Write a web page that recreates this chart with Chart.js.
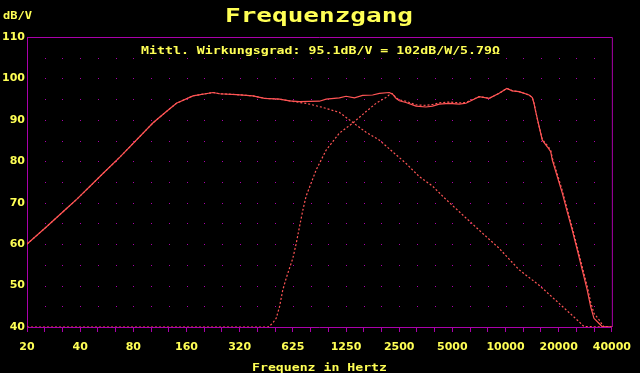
<!DOCTYPE html>
<html>
<head>
<meta charset="utf-8">
<script src="https://cdn.jsdelivr.net/npm/chart.js@4/dist/chart.umd.min.js"></script>
<style>
  html, body { margin: 0; padding: 0; background: #000; }
  #wrap { width: 640px; height: 373px; }
</style>
</head>
<body>
<div id="wrap"><canvas id="chart"></canvas></div>
<script>
// x axis: one label per octave, tick marks every third of an octave
const xTickLabels = ['20', '40', '80', '160', '320', '625', '1250', '2500', '5000', '10000', '20000', '40000'];

// total response (solid)
const mainFreq = [20, 25.8, 33.5, 38.2, 54, 67.1, 103.5, 123.1, 140.3, 174.1, 225.9, 246.4, 306.4, 380.1, 442.5,
  537.9, 612.6, 698, 905, 987.7, 1174, 1281, 1428, 1590, 1811, 1978, 2251, 2350, 2457, 2564, 2797, 3187, 3628,
  3954, 4316, 4915, 5597, 6108, 6655, 7262, 8272, 9421, 10413, 11197, 12218, 13917, 14519, 14845, 15178, 15703,
  16542, 17656, 18457, 18845, 20113, 21467, 22900, 24440, 26085, 27840, 29715, 31062, 32426, 34580, 36100, 40960];
const mainDb = [60, 64.2, 68.6, 70.8, 77.1, 81, 89.3, 92, 94, 95.8, 96.6, 96.3, 96.1, 95.8, 95.2,
  95.0, 94.6, 94.4, 94.5, 95.0, 95.3, 95.7, 95.3, 95.9, 96.0, 96.4, 96.6, 96.2, 95.2, 94.6, 94.2, 93.3, 93.1,
  93.3, 93.8, 94.0, 93.8, 94.0, 94.8, 95.6, 95.2, 96.4, 97.6, 97.0, 96.8, 96.0, 95.4, 94.0, 92.0, 89.2,
  85.1, 83.5, 82.3, 80.3, 76.3, 72.3, 67.8, 63.4, 58.6, 53.8, 48.9, 44.9, 42.1, 40.9, 40.1, 40];

// woofer branch (dotted)
const wooferFreq = [20, 25.8, 33.5, 38.2, 54, 67.1, 103.5, 123.1, 140.3, 174.1, 225.9, 246.4, 306.4, 380.1, 442.5,
  537.9, 612.6, 698, 761, 945, 1174, 1396, 1662, 1978, 2350, 2797, 3327, 3954, 4708, 7424, 9421, 12218,
  15850, 20575, 26670, 28470, 40960];
const wooferDb = [60, 64.2, 68.6, 70.8, 77.1, 81, 89.3, 92, 94, 95.8, 96.6, 96.3, 96.1, 95.8, 95.2,
  95.0, 94.6, 94.2, 94.0, 93.0, 91.8, 89.4, 87.0, 85.1, 82.3, 79.5, 76.3, 74.0, 70.8, 63.0, 59.0, 53.8,
  50.1, 45.7, 41.3, 40.1, 40];

// tweeter branch (dotted)
const tweeterFreq = [20, 462, 472, 493, 515, 538, 561, 587, 613, 640, 669, 698, 729, 761, 867, 988, 1174, 1396,
  1662, 1894, 2156, 2300, 2350, 2457, 2564, 2797, 3187, 3628, 3954, 4316, 4915, 5597, 6108, 6655, 7262, 8272,
  9421, 10413, 11197, 12218, 13917, 14519, 14845, 15178, 15703, 16542, 17656, 18457, 18845, 20113, 21467,
  22900, 24440, 26085, 27840, 29715, 31062, 32426, 34580, 36100, 37000, 40960];
const tweeterDb = [40, 40, 40.2, 41.0, 42.1, 44.9, 48.9, 51.8, 54.2, 56.6, 60.2, 64.2, 68.2, 71.6, 77.9, 82.7, 86.8, 89.2,
  92.0, 94.0, 95.4, 96.4, 96.3, 95.3, 94.8, 94.5, 93.6, 93.5, 93.7, 94.1, 94.3, 94.1, 94.2, 94.9, 95.6, 95.2,
  96.4, 97.6, 97.0, 96.8, 96.0, 95.4, 94.0, 92.0, 89.2, 85.3, 83.8, 82.7, 80.8, 76.9, 72.9,
  68.4, 64.0, 59.3, 54.5, 49.8, 46.0, 43.3, 41.8, 40.6, 40, 40];

const purple = '#aa00aa';
const yellow = '#ffff55';
const red = '#ff5555';

function pairs(fs, ds) {
  return fs.map((f, i) => ({ x: f, y: ds[i] }));
}

// pixel-font look: stretch monospace text to the measured width
function stretchText(ctx, text, left, baseline, width, size) {
  ctx.font = 'bold ' + size + 'px "DejaVu Sans Mono"';
  const w = ctx.measureText(text).width;
  ctx.save();
  ctx.translate(left, baseline);
  ctx.scale(width / w, 1);
  ctx.textAlign = 'left';
  ctx.textBaseline = 'alphabetic';
  ctx.fillStyle = yellow;
  ctx.fillText(text, 0, 0);
  ctx.restore();
}

const decor = {
  id: 'decor',
  beforeDatasetsDraw(chart) {
    const { ctx, chartArea: a, scales: { x, y } } = chart;
    ctx.save();
    ctx.fillStyle = purple;
    for (let k = 1; k < 33; k++) {
      const px = Math.round(x.getPixelForValue(20 * Math.pow(2, k / 3)));
      for (let db = 45; db < 110; db += 5) {
        const py = Math.round(y.getPixelForValue(db));
        ctx.fillRect(px, py, 1, 1);
      }
    }
    ctx.strokeStyle = purple;
    ctx.lineWidth = 1;
    ctx.beginPath();
    ctx.moveTo(a.left, a.top + 0.5);
    ctx.lineTo(a.right + 0.5, a.top + 0.5);
    ctx.lineTo(a.right + 0.5, a.bottom);
    ctx.stroke();
    ctx.restore();
  },
  afterDraw(chart) {
    const ctx = chart.ctx;
    stretchText(ctx, 'Frequenzgang', 225, 22, 188, 19);
    stretchText(ctx, 'dB/V', 3, 19, 29, 10);
    stretchText(ctx, 'Mittl. Wirkungsgrad: 95.1dB/V = 102dB/W/5.79\u03A9', 141, 54, 359, 10);
    stretchText(ctx, 'Frequenz in Hertz', 252, 371, 135, 10);
  }
};

new Chart(document.getElementById('chart'), {
  type: 'line',
  data: {
    datasets: [{
      label: 'Gesamt',
      data: pairs(mainFreq, mainDb),
      borderColor: red,
      borderWidth: 1.2,
      pointRadius: 0,
      tension: 0
    }, {
      label: 'Tieftöner',
      data: pairs(wooferFreq, wooferDb),
      borderColor: red,
      borderWidth: 1.2,
      borderDash: [2, 2],
      pointRadius: 0,
      tension: 0
    }, {
      label: 'Hochtöner',
      data: pairs(tweeterFreq, tweeterDb),
      borderColor: red,
      borderWidth: 1.2,
      borderDash: [2, 2],
      pointRadius: 0,
      tension: 0
    }]
  },
  options: {
    responsive: true,
    maintainAspectRatio: false,
    animation: false,
    layout: { padding: { top: 37, right: 27, left: 0, bottom: 0 } },
    plugins: {
      legend: { display: false },
      tooltip: { enabled: false }
    },
    scales: {
      x: {
        type: 'logarithmic',
        min: 20,
        max: 40960,
        afterBuildTicks: function (scale) {
          const ticks = [];
          for (let k = 0; k <= 33; k++) ticks.push({ value: 20 * Math.pow(2, k / 3) });
          scale.ticks = ticks;
        },
        afterFit: function (scale) { scale.height = 46; },
        grid: { drawOnChartArea: false, tickColor: purple, tickLength: 5 },
        border: { color: purple, width: 1 },
        ticks: {
          autoSkip: false,
          maxRotation: 0,
          padding: 9,
          color: yellow,
          font: { family: '"DejaVu Sans"', size: 11, weight: 'bold' },
          callback: function (value, index) {
            return index % 3 === 0 ? xTickLabels[index / 3] : '';
          }
        }
      },
      y: {
        min: 40,
        max: 110,
        afterFit: function (scale) { scale.width = 27; },
        grid: { drawOnChartArea: false, drawTicks: false },
        border: { color: purple, width: 1 },
        ticks: {
          stepSize: 10,
          padding: 2,
          color: yellow,
          font: { family: '"DejaVu Sans"', size: 11, weight: 'bold' }
        }
      }
    }
  },
  plugins: [decor]
});
</script>
</body>
</html>
